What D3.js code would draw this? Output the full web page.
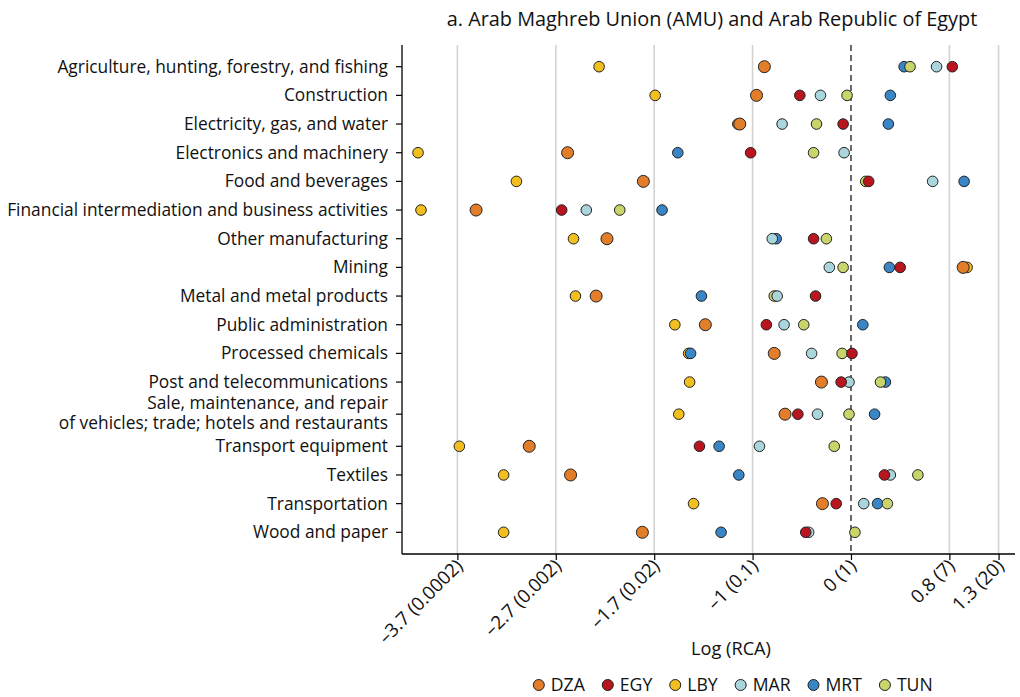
<!DOCTYPE html>
<html>
<head>
<meta charset="utf-8">
<script src="https://cdn.jsdelivr.net/npm/d3@7"></script>
<style>
  html, body { margin: 0; padding: 0; background: #fff; }
  svg { display: block; font-family: "Open Sans", Lato, sans-serif; }
</style>
</head>
<body>
<svg id="chart" width="1020" height="697"></svg>
<script>
// ---------------- DATA ----------------
const title = "a. Arab Maghreb Union (AMU) and Arab Republic of Egypt";
const xTitle = "Log (RCA)";

const sectors = [
  "Agriculture, hunting, forestry, and fishing",
  "Construction",
  "Electricity, gas, and water",
  "Electronics and machinery",
  "Food and beverages",
  "Financial intermediation and business activities",
  "Other manufacturing",
  "Mining",
  "Metal and metal products",
  "Public administration",
  "Processed chemicals",
  "Post and telecommunications",
  "Sale, maintenance, and repair\nof vehicles; trade; hotels and restaurants",
  "Transport equipment",
  "Textiles",
  "Transportation",
  "Wood and paper"
];

const countries = ["DZA", "EGY", "LBY", "MAR", "MRT", "TUN"];

// Values on the chart's log(RCA) axis position scale, one per sector (same order as sectors)
const DZA = [-0.88, -0.96, -1.13, -2.88, -2.11, -3.81, -2.48, 1.14, -2.59, -1.48, -0.78, -0.30, -0.67, -3.27, -2.85, -0.29, -2.12];
const EGY = [1.03, -0.52, -0.08, -1.02, 0.18, -2.94, -0.38, 0.50, -0.36, -0.86, 0.01, -0.10, -0.54, -1.54, 0.34, -0.15, -0.46];
const LBY = [-2.56, -1.99, -1.15, -4.40, -3.40, -4.37, -2.82, 1.18, -2.80, -1.79, -1.65, -1.64, -1.75, -3.98, -3.53, -1.60, -3.53];
const MAR = [0.87, -0.31, -0.70, -0.07, 0.83, -2.69, -0.80, -0.22, -0.75, -0.68, -0.40, -0.02, -0.34, -0.93, 0.40, 0.13, -0.43];
const MRT = [0.54, 0.40, 0.38, -1.76, 1.15, -1.92, -0.76, 0.39, -1.52, 0.12, -1.63, 0.35, 0.24, -1.34, -1.14, 0.27, -1.32];
const TUN = [0.60, -0.04, -0.35, -0.38, 0.15, -2.35, -0.25, -0.08, -0.78, -0.48, -0.09, 0.30, -0.02, -0.17, 0.68, 0.37, 0.04];

const tickValues = [-4, -3, -2, -1, 0, 1, 1.5];
const tickLabels = ["\u20133.7 (0.0002)", "\u20132.7 (0.002)", "\u20131.7 (0.02)", "\u20131 (0.1)", "0 (1)", "0.8 (7)", "1.3 (20)"];

const colors = {DZA: "#e27d2a", EGY: "#b8151f", LBY: "#f3bf1f", MAR: "#abd5dc", MRT: "#3a85c6", TUN: "#c9d56a"};
const seriesValues = {DZA, EGY, LBY, MAR, MRT, TUN};
const drawOrder = ["LBY", "MRT", "TUN", "MAR", "EGY", "DZA"];

// ---------------- LAYOUT ----------------
const svg = d3.select("#chart");
const plot = {left: 402, right: 1015, top: 45, bottom: 554};

// font-size fitting helper (measures text at 100px)
function fitSize(str, targetWidth) {
  const t = svg.append("text").attr("font-size", 100).text(str);
  const w = t.node().getComputedTextLength();
  t.remove();
  return 100 * targetWidth / w;
}
const labelSize = fitSize("Financial intermediation and business activities", 381);
const titleSize = fitSize(title, 531);
const tickSize = fitSize(tickLabels[0], 110);
const legendSize = fitSize("DZA", 34);
const xTitleSize = fitSize(xTitle, 80);

const x = d3.scaleLinear().domain([-4.563, 1.667]).range([plot.left, plot.right]);

// vertical positions: rows with multi-line labels get a bit more room
const lines = sectors.map(s => s.split("\n").length);
const pos = [0];
for (let i = 1; i < sectors.length; i++) {
  pos.push(pos[i - 1] + 1 + 0.12 * ((lines[i] - 1) + (lines[i - 1] - 1)));
}
const pad = 0.757;
const y = d3.scaleLinear().domain([-pad, pos[pos.length - 1] + pad]).range([plot.top, plot.bottom]);
const yPos = i => y(pos[i]);

// gridlines
svg.append("g").selectAll("line")
  .data(tickValues.filter(v => v !== 0))
  .join("line")
  .attr("x1", d => x(d)).attr("x2", d => x(d))
  .attr("y1", plot.top).attr("y2", plot.bottom)
  .attr("stroke", "#d3d3d3").attr("stroke-width", 1.6);

// zero dashed line
svg.append("line")
  .attr("x1", x(0)).attr("x2", x(0))
  .attr("y1", plot.top).attr("y2", plot.bottom)
  .attr("stroke", "#444").attr("stroke-width", 1.6)
  .attr("stroke-dasharray", "6,4");

// x axis
const xAxis = svg.append("g")
  .attr("transform", `translate(0,${plot.bottom})`)
  .call(d3.axisBottom(x).tickValues(tickValues).tickSize(6).tickFormat((d, i) => tickLabels[i]));
xAxis.select(".domain").attr("stroke", "#000").attr("stroke-width", 1.3)
  .attr("d", `M${plot.left},0H${plot.right}`);
xAxis.selectAll(".tick line").attr("stroke", "#000").attr("stroke-width", 1.2);
xAxis.selectAll(".tick text")
  .attr("font-size", tickSize).attr("fill", "#111")
  .attr("font-family", "'Open Sans', sans-serif")
  .attr("text-anchor", "end")
  .attr("dy", null).attr("y", null)
  .attr("transform", "translate(6,13) rotate(-45)");

// y axis
const yAxisG = svg.append("g");
yAxisG.append("line")
  .attr("x1", plot.left).attr("x2", plot.left)
  .attr("y1", plot.top).attr("y2", plot.bottom)
  .attr("stroke", "#000").attr("stroke-width", 1.3);
const yTicks = yAxisG.selectAll("g.ytick").data(sectors).join("g")
  .attr("class", "ytick")
  .attr("transform", (d, i) => `translate(0,${yPos(i)})`);
yTicks.append("line").attr("x1", plot.left - 6).attr("x2", plot.left)
  .attr("stroke", "#000").attr("stroke-width", 1.2);
yTicks.each(function (d) {
  const parts = d.split("\n");
  const t = d3.select(this).append("text")
    .attr("text-anchor", "end").attr("font-size", labelSize).attr("fill", "#111");
  const lh = 20;
  parts.forEach((p, k) => {
    t.append("tspan").attr("x", plot.left - 14)
      .attr("y", (k - (parts.length - 1) / 2) * lh - (parts.length - 1) * 1.5)
      .attr("dy", "0.35em").text(p);
  });
});

// dots
const points = [];
drawOrder.forEach(c => {
  seriesValues[c].forEach((v, i) => points.push({c, v, i}));
});
svg.append("g").selectAll("circle").data(points).join("circle")
  .attr("cx", d => x(d.v))
  .attr("cy", d => yPos(d.i))
  .attr("r", d => d.c === "DZA" ? 6 : 5.3)
  .attr("fill", d => colors[d.c])
  .attr("stroke", "#222").attr("stroke-width", 1);

// title
svg.append("text").attr("x", 712).attr("y", 26)
  .attr("text-anchor", "middle").attr("font-size", titleSize).attr("fill", "#111")
  .text(title);

// x title
svg.append("text").attr("x", 731).attr("y", 655)
  .attr("text-anchor", "middle").attr("font-size", xTitleSize).attr("fill", "#111")
  .text(xTitle);

// legend
const gap = 23;
const leg = svg.append("g");
let lx = 0;
countries.forEach(c => {
  const g = leg.append("g");
  g.append("circle").attr("cx", 0).attr("cy", 0).attr("r", 5.5)
    .attr("fill", colors[c]).attr("stroke", "#222").attr("stroke-width", 1);
  const t = g.append("text").attr("x", 12).attr("dy", "0.36em")
    .attr("font-size", legendSize).attr("fill", "#111").text(c);
  const w = 12 + t.node().getComputedTextLength();
  g.attr("transform", `translate(${lx},0)`);
  lx += w + gap;
});
const totalW = lx - gap + 5.5;
leg.attr("transform", `translate(${733 - totalW / 2 + 5.5},685)`);
</script>
</body>
</html>
